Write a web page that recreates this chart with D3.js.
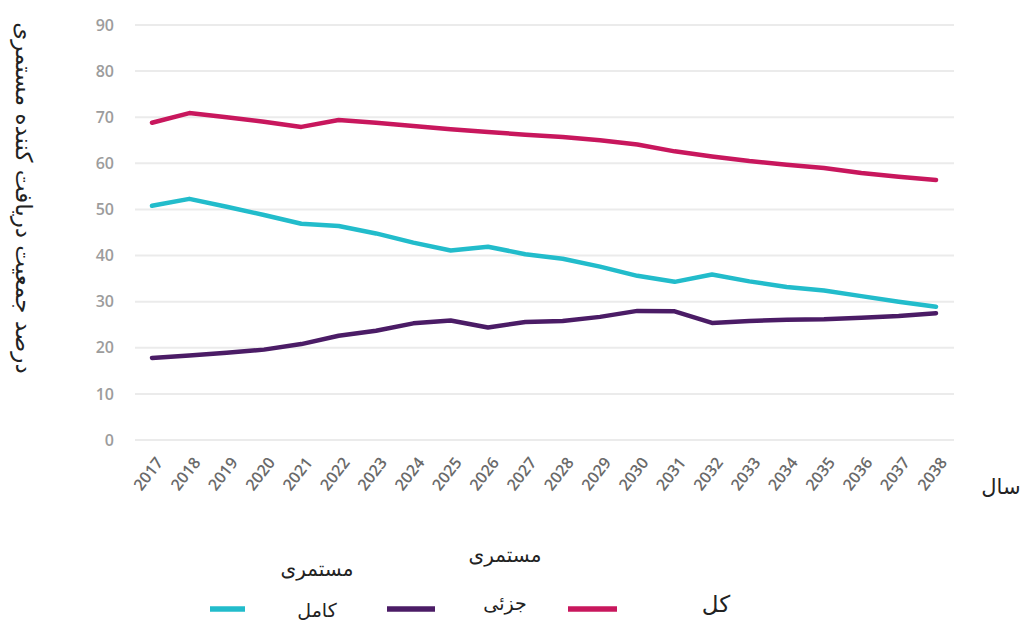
<!DOCTYPE html>
<html><head><meta charset="utf-8">
<script src="https://cdn.jsdelivr.net/npm/d3@7"></script>
<style>body{margin:0;background:#fff}svg{display:block}</style>
</head><body>
<svg id="c" width="1022" height="626"></svg>
<script>
const years = [2017,2018,2019,2020,2021,2022,2023,2024,2025,2026,2027,2028,2029,2030,2031,2032,2033,2034,2035,2036,2037,2038];
const totalValues   = [68.8,70.9,70.0,69.0,67.9,69.4,68.8,68.1,67.4,66.8,66.2,65.7,65.0,64.1,62.6,61.5,60.5,59.7,59.0,57.9,57.1,56.4];
const fullValues    = [50.8,52.3,50.6,48.8,46.9,46.4,44.8,42.8,41.1,41.9,40.3,39.3,37.6,35.6,34.3,35.9,34.4,33.2,32.4,31.2,30.0,28.9];
const partialValues = [17.8,18.3,18.9,19.6,20.8,22.6,23.7,25.3,25.9,24.4,25.6,25.8,26.7,28.0,27.9,25.4,25.8,26.1,26.2,26.5,26.9,27.5];
const yTicks = [0,10,20,30,40,50,60,70,80,90];
const seriesNames = ["کامل","جزئی","کل"];
const seriesColors = ["#22bccb","#4b1c66","#c8175d"];

const svg = d3.select("#c");
const x = d3.scalePoint().domain(years).range([152,936]);
const y = d3.scaleLinear().domain([0,90]).range([440,25]);

// grid
svg.append("g").selectAll("line").data(yTicks).join("line")
  .attr("x1",135).attr("x2",954)
  .attr("y1",d=>y(d)).attr("y2",d=>y(d))
  .attr("stroke","#ebebeb").attr("stroke-width",2);

// y axis labels
const yAxis = svg.append("g").attr("transform","translate(114,0)")
  .call(d3.axisLeft(y).tickValues(yTicks).tickSize(0).tickPadding(0));
yAxis.select(".domain").remove();
yAxis.selectAll("text").attr("fill","#9c9c9c").style("font-family","'Open Sans',sans-serif")
  .style("font-size","16px").style("font-weight","600");

// x axis labels
const xAxis = svg.append("g").attr("transform","translate(0,458)")
  .call(d3.axisBottom(x).tickSize(0).tickPadding(0));
xAxis.select(".domain").remove();
xAxis.selectAll("text")
  .attr("fill","#6a6a6a").style("font-family","'Open Sans',sans-serif").style("font-size","16px").style("font-weight","600")
  .attr("text-anchor","end").attr("dy","0.75em").attr("dx","0.2em").attr("y",0)
  .attr("transform","rotate(-52)");

const line = d3.line().x((d,i)=>x(years[i])).y(d=>y(d));
[[fullValues,0],[partialValues,1],[totalValues,2]].forEach(([vals,k])=>{
  svg.append("path").datum(vals).attr("d",line)
    .attr("fill","none").attr("stroke",seriesColors[k])
    .attr("stroke-width",4.5).attr("stroke-linejoin","round").attr("stroke-linecap","round");
});

// axis titles
svg.append("text").attr("transform","translate(24,198) rotate(90)")
  .attr("text-anchor","middle").attr("dominant-baseline","central")
  .style("font-family","'DejaVu Sans',sans-serif").style("font-size","23px").attr("fill","#222")
  .text("درصد جمعیت دریافت کننده مستمری");
svg.append("text").attr("x",1001).attr("y",494).attr("text-anchor","middle")
  .style("font-family","'DejaVu Sans',sans-serif").style("font-size","21px").attr("fill","#222")
  .text("سال");

// legend
const legend = [
  {x1:210,x2:245,tx:317,ty:617,size:19,sub:"مستمری",sy:576},
  {x1:387,x2:435,tx:505,ty:610,size:19,sub:"مستمری",sy:562},
  {x1:568,x2:617,tx:716,ty:612,size:23,sub:null}
];
legend.forEach((l,k)=>{
  svg.append("line").attr("x1",l.x1).attr("x2",l.x2).attr("y1",609).attr("y2",609)
    .attr("stroke",seriesColors[k]).attr("stroke-width",5.5);
  svg.append("text").attr("x",l.tx).attr("y",l.ty).attr("text-anchor","middle")
    .style("font-family","'DejaVu Sans',sans-serif").style("font-size",l.size+"px").attr("fill","#222")
    .text(seriesNames[k]);
  if(l.sub) svg.append("text").attr("x",l.tx).attr("y",l.sy).attr("text-anchor","middle")
    .style("font-family","'DejaVu Sans',sans-serif").style("font-size","20px").attr("fill","#222")
    .text(l.sub);
});
</script>
</body></html>
